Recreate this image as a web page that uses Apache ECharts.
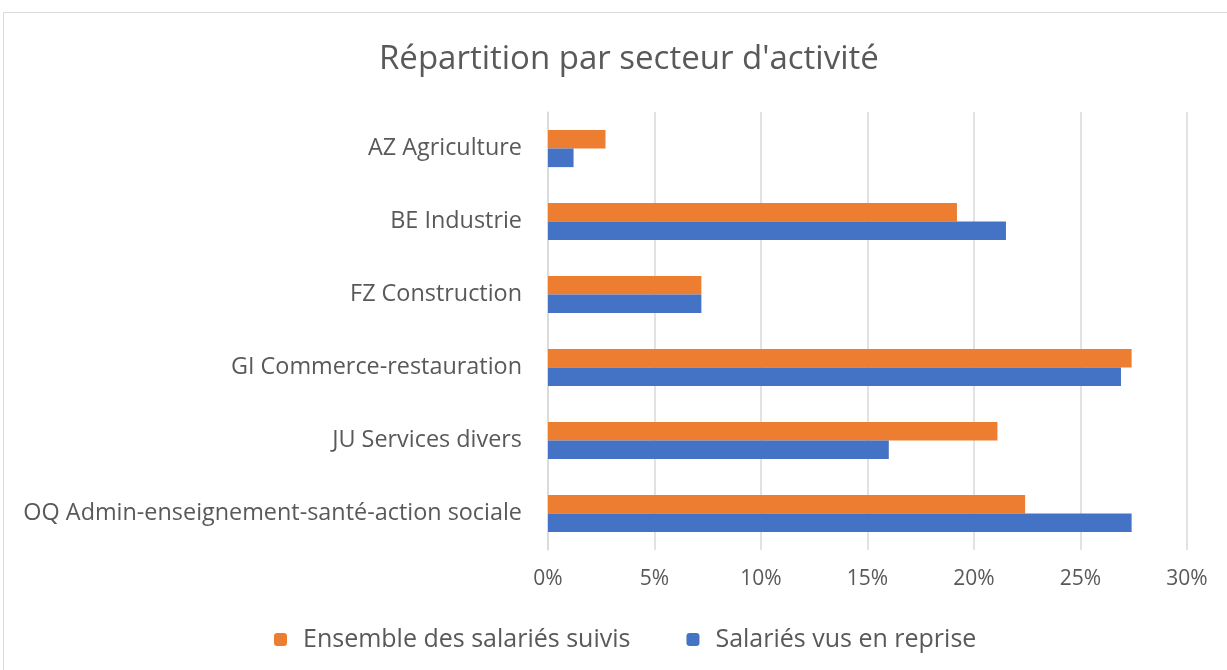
<!DOCTYPE html>
<html>
<head>
<meta charset="utf-8">
<script src="https://cdn.jsdelivr.net/npm/echarts@6/dist/echarts.min.js"></script>
<style>
  html, body { margin: 0; padding: 0; background: #fff; }
  #chart { width: 1227px; height: 670px; }
</style>
</head>
<body>
<div id="chart"></div>
<script>
// secteurs (du haut vers le bas)
var secteurs = ['AZ Agriculture', 'BE Industrie', 'FZ Construction', 'GI Commerce-restauration', 'JU Services divers', 'OQ Admin-enseignement-santé-action sociale'];
// valeurs en %
var ensembleSuivis = [2.7, 19.2, 7.2, 27.4, 21.1, 22.4];
var vusEnReprise = [1.2, 21.5, 7.2, 26.9, 16.0, 27.4];
var ticksX = [0, 5, 10, 15, 20, 25, 30];

var police = '"Open Sans", sans-serif';
var chart = echarts.init(document.getElementById('chart'));
chart.setOption({
    animation: false,
    textStyle: { fontFamily: police },
    graphic: [{
        type: 'rect',
        shape: { x: 3.5, y: 12.5, width: 1240, height: 700 },
        style: { fill: 'none', stroke: '#d9d9d9', lineWidth: 1 },
        silent: true
    }],
    // le cadre d'origine déborde à droite, donc le centre est un peu décalé
    title: {
        text: "Répartition par secteur d'activité",
        left: 374, top: 38,
        textStyle: { fontFamily: police, fontSize: 33, fontWeight: 'normal', color: '#595959' }
    },
    legend: {
        bottom: 13, left: 269,
        itemWidth: 13, itemHeight: 13, itemGap: 56,
        textStyle: { fontSize: 25, color: '#595959', padding: [0, 0, 0, 11] },
        data: ['Ensemble des salariés suivis', 'Salariés vus en reprise']
    },
    grid: { left: 548, right: 40, top: 112, bottom: 120, containLabel: false },
    xAxis: {
        type: 'value', min: ticksX[0], max: ticksX[ticksX.length - 1], interval: 5,
        axisLabel: { formatter: '{value}%', fontSize: 21, color: '#595959', margin: 19 },
        splitLine: { lineStyle: { color: '#d9d9d9', width: 1.5 } },
        axisLine: { show: false }, axisTick: { show: false }
    },
    yAxis: {
        type: 'category', data: secteurs, inverse: true,
        axisLabel: { fontSize: 23.4, color: '#595959', margin: 26, padding: [4, 0, 0, 0] },
        axisLine: { lineStyle: { color: '#d9d9d9', width: 1.5 } },
        axisTick: { show: false }
    },
    series: [
        { name: 'Ensemble des salariés suivis', type: 'bar', data: ensembleSuivis, itemStyle: { color: '#ed7d31' }, barGap: '0%', barCategoryGap: '49%' },
        { name: 'Salariés vus en reprise', type: 'bar', data: vusEnReprise, itemStyle: { color: '#4472c4' }, barGap: '0%', barCategoryGap: '49%' }
    ]
});
</script>
</body>
</html>
